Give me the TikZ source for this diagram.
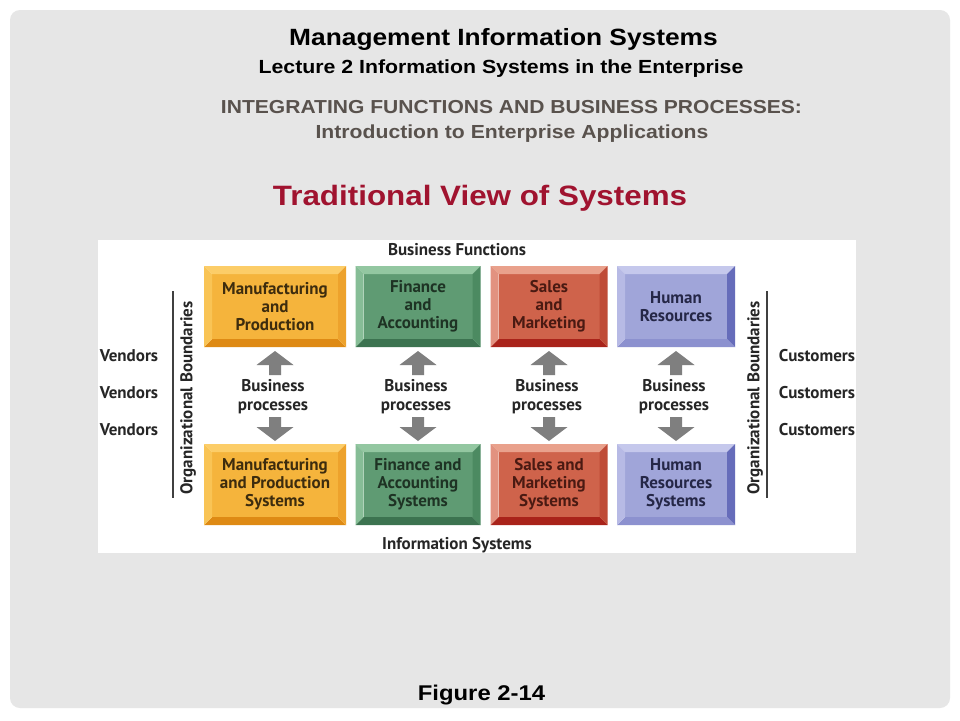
\documentclass[tikz,border=0pt]{standalone}
\usepackage{fontspec}
\setmainfont{Liberation Sans}
\newfontfamily\hdr{Liberation Sans}[FakeStretch=1.12]
\newfontfamily\dg{PT Sans}
\usetikzlibrary{calc}
\definecolor{panel}{HTML}{E6E6E6}
\definecolor{hgray}{HTML}{59524D}
\definecolor{tred}{HTML}{A0132F}
\definecolor{arrgray}{HTML}{7F7F7F}
\definecolor{oF}{HTML}{F5B43C}\definecolor{oT}{HTML}{FCCD68}\definecolor{oL}{HTML}{F9C455}\definecolor{oR}{HTML}{EDA22C}\definecolor{oB}{HTML}{DE8A14}\definecolor{oX}{HTML}{3D2C0E}
\definecolor{gF}{HTML}{5F9B73}\definecolor{gT}{HTML}{93C7A1}\definecolor{gL}{HTML}{86BD96}\definecolor{gR}{HTML}{4C8A61}\definecolor{gB}{HTML}{3C7350}\definecolor{gX}{HTML}{1E3324}
\definecolor{rF}{HTML}{CF634B}\definecolor{rT}{HTML}{E9A18C}\definecolor{rL}{HTML}{E29280}\definecolor{rR}{HTML}{BF4B37}\definecolor{rB}{HTML}{A9231A}\definecolor{rX}{HTML}{4A1A12}
\definecolor{pF}{HTML}{A0A5D9}\definecolor{pT}{HTML}{C5C8EC}\definecolor{pL}{HTML}{B7BAE5}\definecolor{pR}{HTML}{666CBA}\definecolor{pB}{HTML}{8C91CF}\definecolor{pX}{HTML}{252747}
\tikzset{
  hd/.style={anchor=base, inner sep=0pt},
  lbl/.style={font=\dg\bfseries\fontsize{17}{19}\selectfont, text=black!85, inner sep=0pt, align=center},
  face/.style={inner sep=0pt, outer sep=0pt, align=center, font=\dg\bfseries\fontsize{17}{18}\selectfont},
  arr/.style={fill=arrgray},
  bline/.style={draw=black!75, line width=1.6pt}
}
% #1 name, #2 x, #3 y, #4 inner w, #5 inner h, #6 colour prefix, #7 text
\newcommand\bevbox[7]{%
  \node[face, fill=#6F, text=#6X, minimum width=#4, minimum height=#5] (#1) at (#2,#3) {#7};
  \fill[#6T] (#1.north west) -- (#1.north east) -- ++(8,-8) -- ($(#1.north west)+(-8,-8)$) -- cycle;
  \fill[#6B] (#1.south west) -- (#1.south east) -- ++(8,8) -- ($(#1.south west)+(-8,8)$) -- cycle;
  \fill[#6L] (#1.north west) -- (#1.south west) -- ++(-8,8) -- ($(#1.north west)+(-8,-8)$) -- cycle;
  \fill[#6R] (#1.north east) -- (#1.south east) -- ++(8,8) -- ($(#1.north east)+(8,-8)$) -- cycle;
}
\newcommand\uparr[1]{%
  \fill[arr] (#1,351) -- (#1+18.5,365) -- (#1+6,365) -- (#1+6,375) -- (#1-6,375) -- (#1-6,365) -- (#1-18.5,365) -- cycle;}
\newcommand\dnarr[1]{%
  \fill[arr] (#1,441) -- (#1+18.5,427) -- (#1+6,427) -- (#1+6,417) -- (#1-6,417) -- (#1-6,427) -- (#1-18.5,427) -- cycle;}
\begin{document}
\begin{tikzpicture}[x=1pt,y=-1pt]
\useasboundingbox (0,0) rectangle (960,720);
\fill[white] (0,0) rectangle (960,720);
\fill[panel, rounded corners=10pt] (10,10) rectangle (950,708);

% headers
\node[hd, font=\hdr\bfseries\fontsize{23.5}{28}\selectfont] (title) at (503.5,45) {Management Information Systems};
\node[hd, font=\hdr\bfseries\fontsize{19}{23}\selectfont] (lect) at (501,73) {Lecture 2 Information Systems in the Enterprise};
\node[hd, font=\hdr\bfseries\fontsize{18.8}{23}\selectfont, text=hgray] (integ) at (511.5,113) {INTEGRATING FUNCTIONS AND BUSINESS PROCESSES:};
\node[hd, font=\hdr\bfseries\fontsize{18.9}{23}\selectfont, text=hgray] (intro) at (512,138) {Introduction to Enterprise Applications};
\node[hd, font=\hdr\bfseries\fontsize{28}{33}\selectfont, text=tred] (trad) at (480,205) {Traditional View of Systems};
\node[hd, font=\hdr\bfseries\fontsize{21.3}{25}\selectfont] (fig) at (481.5,700) {Figure 2-14};

% diagram area
\node[fill=white, inner sep=0pt, minimum width=758, minimum height=313] (diag) at (477,396.5) {};

\node[lbl, anchor=base] (bfun) at (457,255) {Business Functions};
\node[lbl, anchor=base] (isys) at (457,549) {Information Systems};

\foreach \y/\n in {361/1,398/2,435/3}{
  \node[lbl, anchor=base] (v\n) at (129,\y) {Vendors};
  \node[lbl, anchor=base] (c\n) at (817,\y) {Customers};
}

\draw[bline] (173,291) -- (173,498);
\draw[bline] (767,291) -- (767,498);
\node[lbl, rotate=90] (obl) at (188,398) {Organizational Boundaries};
\node[lbl, rotate=90] (obr) at (755,398) {Organizational Boundaries};

% top row
\bevbox{f1}{275}{306.5}{126}{65}{o}{Manufacturing\\and\\Production}
\bevbox{f2}{418}{306.5}{109}{65}{g}{Finance\\and\\Accounting}
\bevbox{f3}{549}{306.5}{101}{65}{r}{Sales\\and\\Marketing}
\bevbox{f4}{676}{306.5}{102}{65}{p}{Human\\Resources}
% bottom row
\bevbox{s1}{275}{484.5}{126}{65}{o}{Manufacturing\\and Production\\Systems}
\bevbox{s2}{418}{484.5}{109}{65}{g}{Finance and\\Accounting\\Systems}
\bevbox{s3}{549}{484.5}{101}{65}{r}{Sales and\\Marketing\\Systems}
\bevbox{s4}{676}{484.5}{102}{65}{p}{Human\\Resources\\Systems}

% business processes
\foreach \x/\n in {275/1,418/2,549/3,676/4}{
  \uparr{\x}
  \dnarr{\x}
  \node[lbl] (bp\n) at (\x-2,397) {Business\\processes};
}
\end{tikzpicture}
\end{document}
